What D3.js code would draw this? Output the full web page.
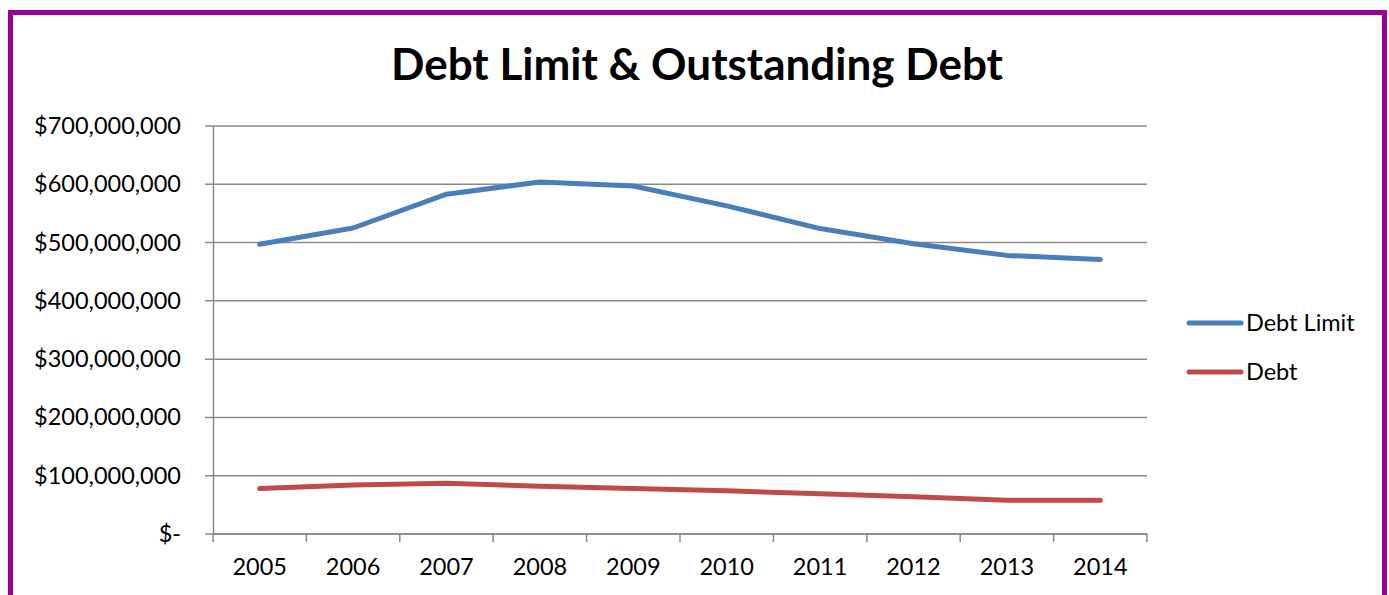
<!DOCTYPE html>
<html>
<head>
<meta charset="utf-8">
<script src="https://cdn.jsdelivr.net/npm/d3@7"></script>
<style>
  html, body { margin: 0; padding: 0; background: #fff; }
  svg { display: block; font-family: Lato, "Open Sans", sans-serif; }
</style>
</head>
<body>
<div id="container"></div>
<script>
const years = ['2005', '2006', '2007', '2008', '2009', '2010', '2011', '2012', '2013', '2014'];
const debtLimit = [497e6, 525e6, 583e6, 604e6, 597e6, 563e6, 524e6, 498e6, 478e6, 471e6];
const debt = [78e6, 84e6, 87e6, 82e6, 78e6, 74e6, 69e6, 64e6, 58e6, 58e6];
const yTicks = [0, 100e6, 200e6, 300e6, 400e6, 500e6, 600e6, 700e6];
const seriesNames = ['Debt Limit', 'Debt'];
const seriesColors = ['#4a7ebb', '#be4b48'];

const w = 1389;
const h = 595;

const svg = d3.select('#container')
  .append('svg')
  .attr('width', w)
  .attr('height', h);

// purple frame, bottom edge runs off the page
svg.append('rect')
  .attr('x', 10.5)
  .attr('y', 12.5)
  .attr('width', 1374)
  .attr('height', 640)
  .attr('fill', '#fff')
  .attr('stroke', '#990099')
  .attr('stroke-width', 5);

svg.append('text')
  .attr('x', 697)
  .attr('y', 80)
  .attr('text-anchor', 'middle')
  .attr('font-weight', 'bold')
  .attr('font-size', 44)
  .text('Debt Limit & Outstanding Debt');

const x = d3.scaleBand()
  .domain(years)
  .range([213, 1147]);

const y = d3.scaleLinear()
  .domain([0, 700e6])
  .range([534, 126]);

const fmt = v => v === 0 ? '$-' : '$' + d3.format(',')(v);

// gridlines
svg.append('g')
  .selectAll('line')
  .data(yTicks)
  .enter()
  .append('line')
  .attr('x1', 205)
  .attr('x2', 1147)
  .attr('y1', d => y(d))
  .attr('y2', d => y(d))
  .attr('stroke', '#8a8a8a')
  .attr('stroke-width', 1.5);

// y axis
const yAxis = svg.append('g')
  .attr('transform', 'translate(213,0)')
  .call(d3.axisLeft(y).tickValues(yTicks).tickSize(0).tickPadding(32).tickFormat(fmt));
yAxis.select('.domain').attr('stroke', '#8a8a8a').attr('stroke-width', 1.5);
yAxis.selectAll('text')
  .attr('font-size', 23.5)
  .attr('font-family', 'Lato, sans-serif')
  .attr('fill', '#000');

// x axis, ticks at band edges
const xAxis = svg.append('g')
  .attr('transform', 'translate(0,534)');
xAxis.append('line')
  .attr('x1', 213).attr('x2', 1147)
  .attr('stroke', '#8a8a8a').attr('stroke-width', 1.5);
xAxis.selectAll('.edge')
  .data(years.concat(['end']))
  .enter()
  .append('line')
  .attr('class', 'edge')
  .attr('x1', (d, i) => i < years.length ? x(d) : x.range()[1])
  .attr('x2', (d, i) => i < years.length ? x(d) : x.range()[1])
  .attr('y1', 0).attr('y2', 8)
  .attr('stroke', '#8a8a8a').attr('stroke-width', 1.5);
xAxis.selectAll('text')
  .data(years)
  .enter()
  .append('text')
  .attr('x', d => x(d) + x.bandwidth() / 2)
  .attr('y', 41)
  .attr('text-anchor', 'middle')
  .attr('font-size', 23.5)
  .text(d => d);

const line = d3.line()
  .x((d, i) => x(years[i]) + x.bandwidth() / 2)
  .y(d => y(d));

[debtLimit, debt].forEach((s, i) => {
  svg.append('path')
    .datum(s)
    .attr('d', line)
    .attr('fill', 'none')
    .attr('stroke', seriesColors[i])
    .attr('stroke-width', 5)
    .attr('stroke-linecap', 'round')
    .attr('stroke-linejoin', 'round');
});

// legend
const legend = svg.append('g')
  .selectAll('g')
  .data(seriesNames)
  .enter()
  .append('g')
  .attr('transform', (d, i) => `translate(1189,${323 + i * 49})`);
legend.append('line')
  .attr('x1', 0).attr('x2', 52)
  .attr('stroke', (d, i) => seriesColors[i])
  .attr('stroke-width', 5)
  .attr('stroke-linecap', 'round');
legend.append('text')
  .attr('x', 57)
  .attr('y', 8)
  .attr('font-size', 23.5)
  .text(d => d);
</script>
</body>
</html>
